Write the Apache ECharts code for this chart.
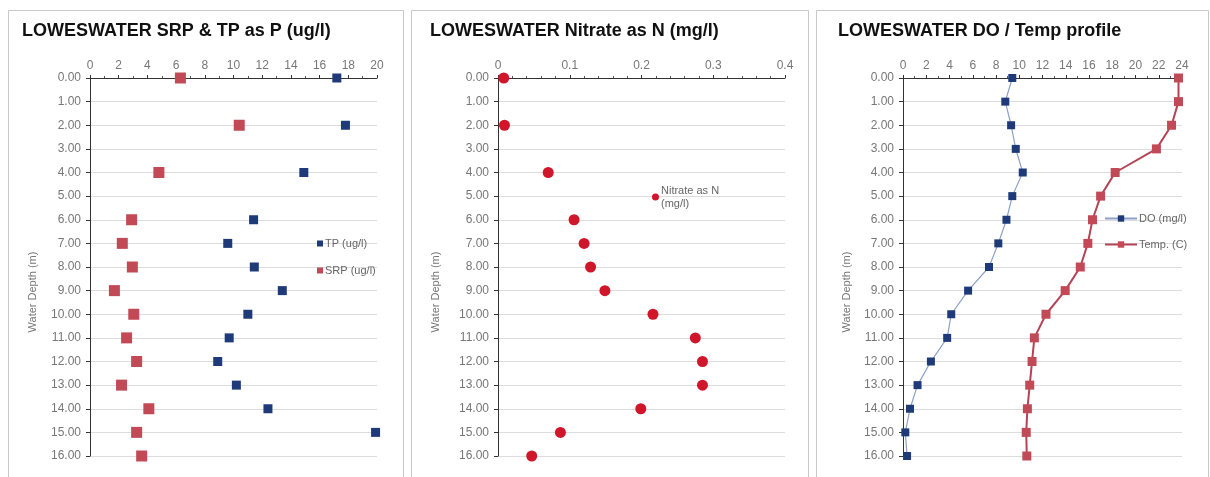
<!DOCTYPE html>
<html><head><meta charset="utf-8">
<script src="https://cdn.jsdelivr.net/npm/echarts@6/dist/echarts.min.js"></script>
<style>html,body{margin:0;padding:0;background:#fff}#c{width:1210px;height:477px}</style>
</head><body><div id="c"></div>
<script>
const depths = [0,1,2,3,4,5,6,7,8,9,10,11,12,13,14,15,16];
const tp = [17.2,null,17.8,null,14.9,null,11.4,9.6,11.45,13.4,11.0,9.7,8.9,10.2,12.4,19.9,null];
const srp = [6.3,null,10.4,null,4.8,null,2.9,2.25,2.95,1.7,3.05,2.55,3.25,2.2,4.1,3.25,3.6];
const nitrate = [0.008,null,0.009,null,0.07,null,0.106,0.12,0.129,0.149,0.216,0.275,0.285,0.285,0.199,0.087,0.047];
const dox = [9.4,8.8,9.3,9.7,10.3,9.4,8.9,8.2,7.4,5.6,4.15,3.8,2.4,1.25,0.6,0.2,0.35];
const temp = [23.7,23.7,23.1,21.8,18.25,17.0,16.3,15.9,15.25,13.95,12.3,11.3,11.1,10.9,10.7,10.6,10.65];
const titles = ['LOWESWATER SRP & TP as P (ug/l)','LOWESWATER Nitrate as N (mg/l)','LOWESWATER DO / Temp profile'];
const yName = 'Water Depth (m)';

function pairs(vals){ const out=[]; vals.forEach((v,i)=>{ if(v!==null) out.push([v,depths[i]]); }); return out; }

const FONT = 'Liberation Sans, Arial, sans-serif';
const grids = [
  {left:90, top:78, width:287, height:378},
  {left:498, top:78, width:287, height:378},
  {left:903, top:78, width:279, height:378}
];
const xCfg = [{max:20, interval:2, minor:2},{max:0.4, interval:0.1, minor:5},{max:24, interval:2, minor:2}];

const xAxes = xCfg.map((c,i)=>({
  gridIndex:i, type:'value', position:'top', min:0, max:c.max, interval:c.interval,
  axisLine:{show:true, onZero:false, lineStyle:{color:'#333', width:1}},
  axisTick:{show:true, length:3, lineStyle:{color:'#333'}},
  minorTick:{show:true, splitNumber:c.minor, length:2, lineStyle:{color:'#555'}},
  axisLabel:{color:'#777', fontSize:12, fontFamily:FONT, margin:6},
  splitLine:{show:false}
}));
const yAxes = [0,1,2].map(i=>({
  gridIndex:i, type:'value', inverse:true, min:0, max:16, interval:1,
  axisLine:{show:true, onZero:false, lineStyle:{color:'#333', width:1}},
  axisTick:{show:true, length:4, lineStyle:{color:'#333'}},
  axisLabel:{color:'#777', fontSize:12, fontFamily:FONT, margin:9, formatter:v=>v.toFixed(2)},
  splitLine:{show:true, lineStyle:{color:'#dcdcdc', width:1}}
}));

const blue = '#1f3a78', red = '#c24a57', nred = '#d0162a';
const series = [
  {name:'TP (ug/l)', type:'scatter', xAxisIndex:0, yAxisIndex:0, symbol:'rect', symbolSize:9, data:pairs(tp), itemStyle:{color:blue, opacity:1}},
  {name:'SRP (ug/l)', type:'scatter', xAxisIndex:0, yAxisIndex:0, symbol:'rect', symbolSize:11, data:pairs(srp), itemStyle:{color:red, opacity:1}},
  {name:'Nitrate as N\n(mg/l)', type:'scatter', xAxisIndex:1, yAxisIndex:1, symbol:'circle', symbolSize:11, data:pairs(nitrate), itemStyle:{color:nred, opacity:1}},
  {name:'DO (mg/l)', type:'line', xAxisIndex:2, yAxisIndex:2, symbol:'rect', symbolSize:8, data:pairs(dox), itemStyle:{color:blue}, lineStyle:{color:'#8c9fc8', width:1.2}},
  {name:'Temp. (C)', type:'line', xAxisIndex:2, yAxisIndex:2, symbol:'rect', symbolSize:9, data:pairs(temp), itemStyle:{color:red}, lineStyle:{color:'#b34456', width:2}}
];

const graphic = [];
const boxes = [[8,10,395,470],[411,10,397,470],[816,10,392,470]];
boxes.forEach(b=>graphic.push({type:'rect', shape:{x:b[0]+0.5,y:b[1]+0.5,width:b[2],height:b[3]}, style:{fill:null, stroke:'#c8c8c8', lineWidth:1}, silent:true}));
const tx = [22, 430, 838];
titles.forEach((t,i)=>graphic.push({type:'text', left:tx[i], top:22, style:{text:t, font:'bold 18px '+FONT, fill:'#111'}}));
const nx = [33, 436, 847];
nx.forEach(x=>graphic.push({type:'text', x:x, y:292, rotation:Math.PI/2, style:{text:yName, font:'11px '+FONT, fill:'#777', align:'center', verticalAlign:'middle'}}));

const option = {
  animation:false,
  grid: grids,
  xAxis: xAxes,
  yAxis: yAxes,
  series: series,
  legend: [
    {data:['TP (ug/l)','SRP (ug/l)'], orient:'vertical', left:312, top:233, itemGap:16, itemWidth:6, itemHeight:6, textStyle:{fontSize:11, color:'#666', fontFamily:FONT, padding:[0,0,0,-3]}},
    {data:['Nitrate as N\n(mg/l)'], orient:'vertical', left:647, top:179, itemWidth:7, itemHeight:7, textStyle:{fontSize:11, color:'#666', fontFamily:FONT, lineHeight:13, padding:[0,0,0,-3]}},
    {data:['DO (mg/l)','Temp. (C)'], orient:'vertical', left:1099, top:208, itemGap:15, itemWidth:32, itemHeight:8, textStyle:{fontSize:11, color:'#666', fontFamily:FONT, padding:[0,0,0,-3]}}
  ],
  graphic: graphic
};
const chart = echarts.init(document.getElementById('c'), null, {renderer:'canvas'});
chart.setOption(option);
</script></body></html>
